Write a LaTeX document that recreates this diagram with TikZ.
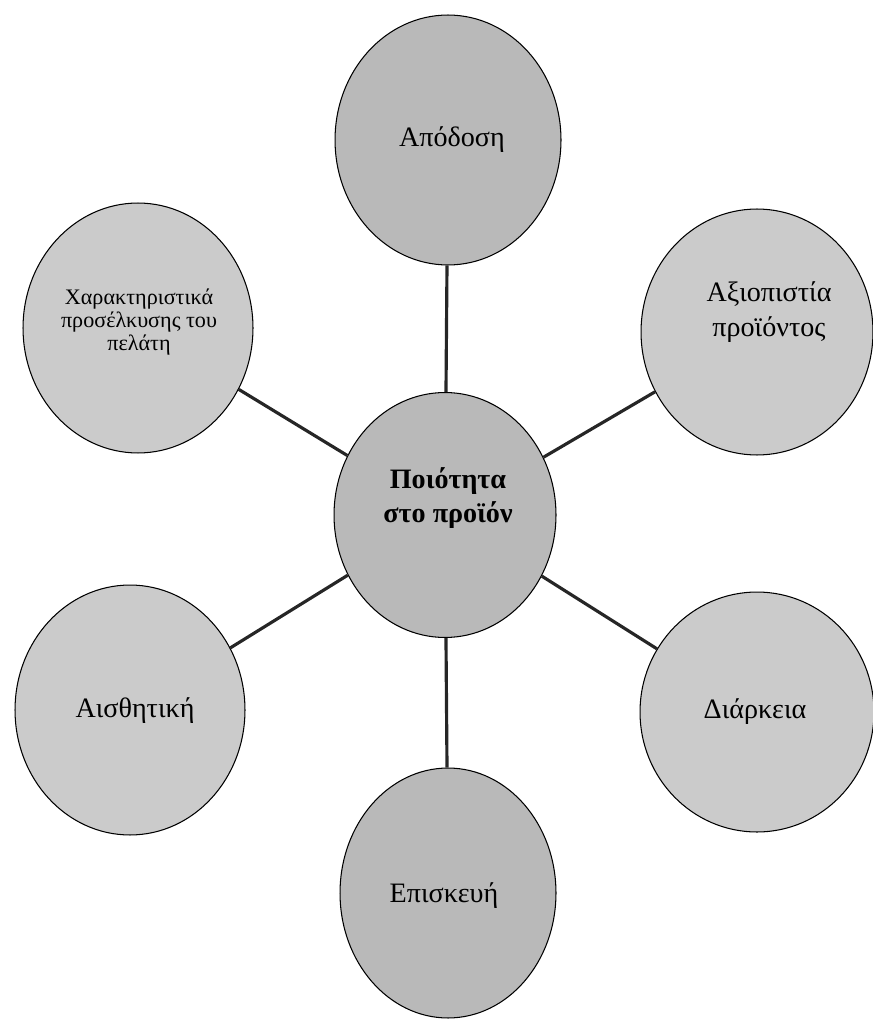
\documentclass[tikz,border=0pt]{standalone}
\usepackage{fontspec}
\setmainfont{Liberation Serif}
\usepackage{xcolor}
\usetikzlibrary{shapes.geometric}
\definecolor{ScanGrey}{HTML}{CBCBCB}
\definecolor{ScanDark}{HTML}{B9B9B9}
\tikzset{
  topic/.style={
    ellipse,
    draw=black,
    line width=0.6pt,
    fill=ScanGrey,
    inner sep=0pt,
    minimum width=4.6cm,
    minimum height=5cm
  },
  caption/.style={align=center,font=\fontsize{16}{20}\selectfont},
  spoke/.style={line width=1.8pt,draw=black!85}
}

\begin{document}
\begin{tikzpicture}[x=0.02cm,y=-0.02cm]
    \useasboundingbox (0,0) rectangle (872,1020);

    \node[topic,fill=ScanDark,minimum width=4.44cm,minimum height=4.9cm] (quality) at (445,515) {};
    \node[topic,fill=ScanDark,minimum width=4.52cm] (performance) at (448,140) {};
    \node[topic] (appeal) at (138,328) {};
    \node[topic,minimum width=4.64cm,minimum height=4.92cm] (reliability) at (757,332) {};
    \node[topic] (aesthetics) at (130,710) {};
    \node[topic,minimum width=4.68cm,minimum height=4.8cm] (durability) at (757,712) {};
    \node[topic,fill=ScanDark,minimum width=4.32cm] (repair) at (448,893) {};

    \node[caption,font=\fontsize{16}{19}\selectfont\bfseries] (quality-text) at (448,498) {Ποιότητα\\στο προϊόν};
    \node[caption] (performance-text) at (452,140) {Απόδοση};
    \node[caption,font=\fontsize{12.6}{13}\selectfont] (appeal-text) at (139,322) {Χαρακτηριστικά\\προσέλκυσης του\\πελάτη};
    \node[caption] (reliability-text) at (769,312) {Αξιοπιστία\\προϊόντος};
    \node[caption] (aesthetics-text) at (135,711) {Αισθητική};
    \node[caption] (durability-text) at (755,712) {Διάρκεια};
    \node[caption] (repair-text) at (444,896) {Επισκευή};

    \draw[spoke] (quality) -- (performance);
    \draw[spoke] (quality) -- (appeal);
    \draw[spoke] (quality) -- (reliability);
    \draw[spoke] (quality) -- (aesthetics);
    \draw[spoke] (quality) -- (durability);
    \draw[spoke] (quality) -- (repair);
\end{tikzpicture}
\end{document}
